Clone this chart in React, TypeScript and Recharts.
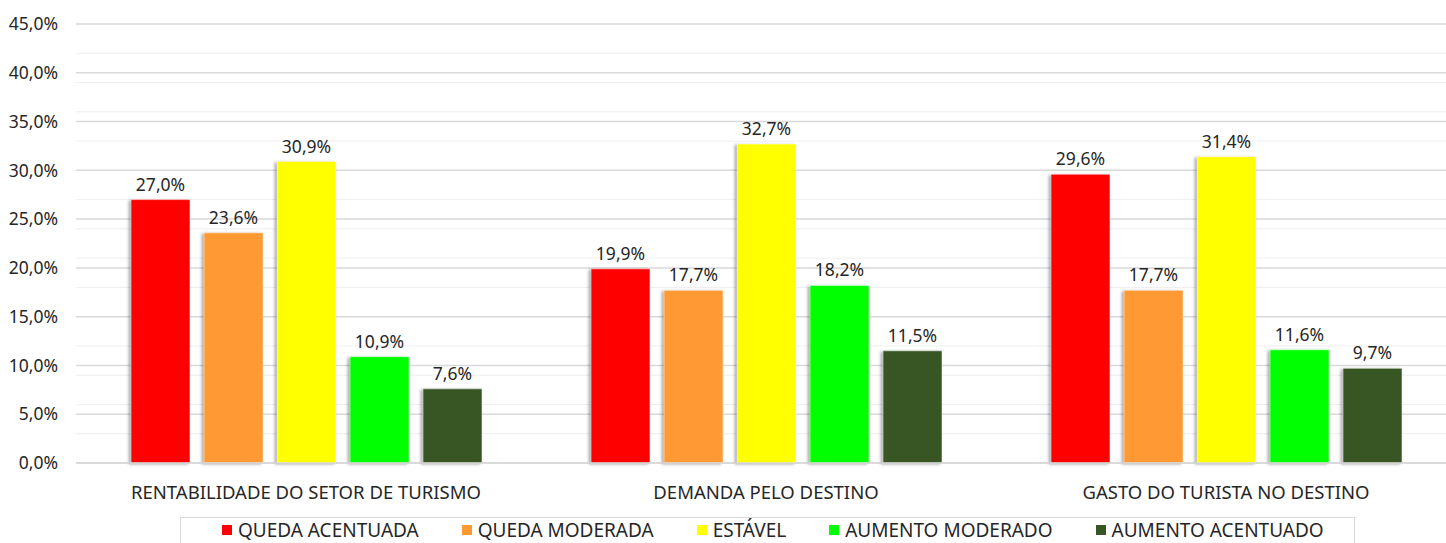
import React from 'react';
import { BarChart, Bar, XAxis, YAxis, CartesianGrid, LabelList, Legend } from 'recharts';

const categories = ['RENTABILIDADE DO SETOR DE TURISMO', 'DEMANDA PELO DESTINO', 'GASTO DO TURISTA NO DESTINO'];
const quedaAcentuada = [27.0, 19.9, 29.6];
const quedaModerada = [23.6, 17.7, 17.7];
const estavel = [30.9, 32.7, 31.4];
const aumentoModerado = [10.9, 18.2, 11.6];
const aumentoAcentuado = [7.6, 11.5, 9.7];
const majorTicks = [0, 5, 10, 15, 20, 25, 30, 35, 40, 45];
const minorTicks = Array.from({ length: 46 }, (_, i) => i);

const series = [
  { key: 'qa', name: 'QUEDA ACENTUADA', color: '#FF0000', values: quedaAcentuada },
  { key: 'qm', name: 'QUEDA MODERADA', color: '#FF9933', values: quedaModerada },
  { key: 'es', name: 'ESTÁVEL', color: '#FFFF00', values: estavel },
  { key: 'am', name: 'AUMENTO MODERADO', color: '#00FF00', values: aumentoModerado },
  { key: 'aa', name: 'AUMENTO ACENTUADO', color: '#375623', values: aumentoAcentuado },
];

const data = categories.map((c, i) => {
  const row: any = { name: c };
  series.forEach((s) => (row[s.key] = s.values[i]));
  return row;
});

const FONT = "'Noto Sans', 'Open Sans', sans-serif";
const TEXT = '#262626';

const fmt = (v: any) => Number(v).toFixed(1).replace('.', ',') + '%';

const LegendContent = () => {
  return (
    <div
      style={{
        width: 1175,
        height: 40,
        boxSizing: 'border-box',
        border: '1px solid #d9d9d9',
        background: '#fff',
        display: 'flex',
        alignItems: 'flex-start',
        paddingLeft: 41,
        paddingTop: 2,
        fontFamily: FONT,
        fontSize: 19,
        lineHeight: '20px',
        color: TEXT,
      }}
    >
      {series.map((s, i) => (
        <div key={i} style={{ display: 'flex', alignItems: 'center', marginRight: 43, whiteSpace: 'nowrap' }}>
          <span style={{ display: 'inline-block', width: 10, height: 10, background: s.color, marginRight: 6 }} />
          <span>{s.name}</span>
        </div>
      ))}
    </div>
  );
};

export default function App() {
  return (
    <div style={{ position: 'absolute', left: 0, top: 0, width: 1446, height: 543, overflow: 'hidden', background: '#fff' }}>
      <BarChart
        width={1456}
        height={543}
        data={data}
        margin={{ top: 24, right: 0, bottom: 0, left: 0 }}
        barCategoryGap={55}
        barGap={14}
      >
        <CartesianGrid horizontal={true} vertical={false} horizontalValues={minorTicks} stroke="#eeeeee" strokeWidth={1} />
        <CartesianGrid horizontal={true} vertical={false} horizontalValues={majorTicks} stroke="#d9d9d9" strokeWidth={1.5} />
        <XAxis
          dataKey="name"
          height={80}
          tickLine={false}
          tickSize={0}
          tickMargin={23}
          axisLine={{ stroke: '#d9d9d9', strokeWidth: 1.5 }}
          tick={{ fill: TEXT, fontSize: 18.5, fontFamily: FONT }}
          interval={0}
        />
        <YAxis
          width={76}
          domain={[0, 45]}
          ticks={majorTicks}
          tickFormatter={fmt}
          axisLine={false}
          tickLine={false}
          tickSize={0}
          tickMargin={18}
          tick={{ fill: TEXT, fontSize: 17.5, fontFamily: FONT }}
        />
        <Legend
          layout="horizontal"
          verticalAlign="middle"
          align="center"
          content={<LegendContent />}
          wrapperStyle={{ position: 'absolute', top: 517, left: 180, width: 1175 }}
        />
        {series.map((s) => (
          <Bar
            key={s.key}
            dataKey={s.key}
            name={s.name}
            fill={s.color}
            stroke="#ffffff"
            strokeOpacity={0.5}
            isAnimationActive={false}
            style={{ filter: 'drop-shadow(-2px 1px 1.5px rgba(0,0,0,0.35))' }}
          >
            <LabelList
              dataKey={s.key}
              position="top"
              offset={9}
              formatter={fmt}
              style={{ fill: TEXT, fontSize: 17.5, fontFamily: FONT }}
            />
          </Bar>
        ))}
      </BarChart>
    </div>
  );
}
